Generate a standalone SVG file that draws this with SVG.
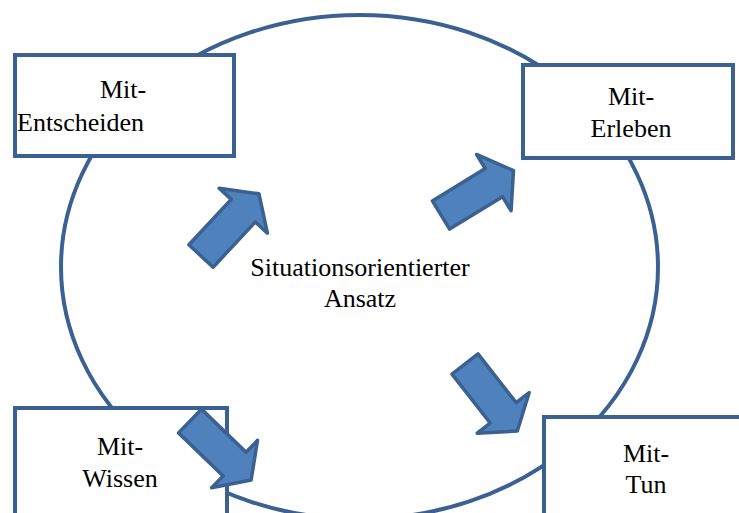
<svg xmlns="http://www.w3.org/2000/svg" width="739" height="513" viewBox="0 0 739 513">
<defs>
<style>
.ring{fill:none;stroke:#3A6191;stroke-width:4}
.box{fill:#FFFFFF;stroke:#3A6191;stroke-width:4}
.arr{fill:#4F81BD;stroke:#3A6191;stroke-width:3.5;stroke-linejoin:round}
.t{font-family:"Liberation Serif","Times New Roman",serif;font-size:26px;fill:#000000}
.m{text-anchor:middle}
</style>
<path id="blk" d="M0,-16.5 L62,-16.5 L62,-33 L85,0 L62,33 L62,16.5 L0,16.5 Z"/>
</defs>
<rect width="739" height="513" fill="#FFFFFF"/>
<g id="cycle">
<ellipse class="ring" cx="359.5" cy="267" rx="298.5" ry="252"/>
</g>
<g id="center">
<text class="t m" x="360" y="276">Situationsorientierter</text>
<text class="t m" x="360" y="307">Ansatz</text>
</g>
<g id="mit-entscheiden">
<rect class="box" x="15" y="55" width="219" height="101"/>
<text class="t m" x="123" y="98">Mit-</text>
<text class="t" x="17" y="131">Entscheiden</text>
</g>
<g id="mit-erleben">
<rect class="box" x="523" y="65" width="210" height="93"/>
<text class="t m" x="631" y="105">Mit-</text>
<text class="t m" x="631" y="137">Erleben</text>
</g>
<g id="mit-wissen">
<rect class="box" x="15" y="408" width="212" height="120"/>
<text class="t m" x="120" y="455">Mit-</text>
<text class="t m" x="120" y="487">Wissen</text>
</g>
<g id="mit-tun">
<rect class="box" x="544" y="417" width="220" height="120"/>
<text class="t m" x="646" y="462">Mit-</text>
<text class="t m" x="646" y="493">Tun</text>
</g>
<g id="connectors">
<use href="#blk" class="arr" transform="translate(201,256) rotate(-47)"/>
<use href="#blk" class="arr" transform="translate(441,215) rotate(-31.5)"/>
<use href="#blk" class="arr" transform="translate(190,421) rotate(44)"/>
<use href="#blk" class="arr" transform="translate(465,364) rotate(52)"/>
</g>
</svg>
